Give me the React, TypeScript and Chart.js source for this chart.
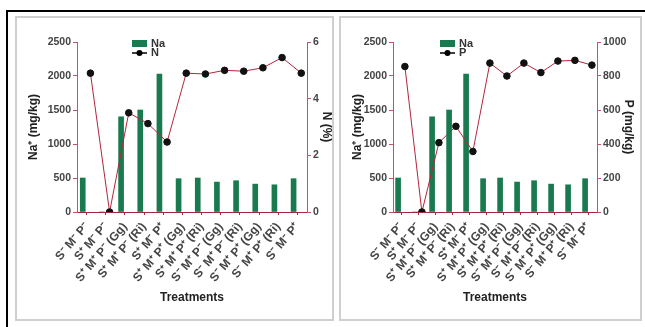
import React, { useEffect, useRef } from "react";
import { Chart, registerables } from "chart.js";

Chart.register(...registerables);

const treatments = [
  "S⁻ M⁻ P⁻",
  "S⁺ M⁻ P⁻",
  "S⁺ M⁺ P⁻ (Gg)",
  "S⁺ M⁺ P⁻ (Ri)",
  "S⁺ M⁻ P⁺",
  "S⁺ M⁺ P⁺ (Gg)",
  "S⁺ M⁺ P⁺ (Ri)",
  "S⁻ M⁺ P⁻ (Gg)",
  "S⁻ M⁺ P⁻ (Ri)",
  "S⁻ M⁺ P⁺ (Gg)",
  "S⁻ M⁺ P⁺ (Ri)",
  "S⁻ M⁻ P⁺",
];

const naValues = [500, 0, 1400, 1500, 2030, 490, 500, 440, 460, 410, 400, 490];
const nValues = [4.9, 0, 3.5, 3.12, 2.47, 4.9, 4.87, 5.0, 4.97, 5.09, 5.45, 4.9];
const pValues = [856, 0, 408, 504, 356, 876, 800, 876, 820, 888, 892, 864];

const naTicks = [0, 500, 1000, 1500, 2000, 2500];
const nTicks = [0, 2, 4, 6];
const pTicks = [0, 200, 400, 600, 800, 1000];

const FONT = "'Liberation Sans', Arial, sans-serif";
const AXIS = "#c9505f";
const XAXIS = "#9e2b3a";
const LINE = "#b3263d";
const BAR = "#1a7a4f";
const TICKC = "#444";

type PanelProps = {
  left: number;
  width: number;
  rightValues: number[];
  rightTicks: number[];
  rightLabel: string;
  legendLabel: string;
  yWidth: number;
  y2Width: number;
  legendX: number;
  y2TitlePad: number;
};

function Panel(p: PanelProps) {
  const ref = useRef<HTMLCanvasElement>(null);
  useEffect(() => {
    if (!ref.current) return;
    const shiftPlugin = {
      id: "pairShift",
      afterDatasetsUpdate(chart: any) {
        const xs = chart.scales.x;
        const dx = (xs.getPixelForValue(1) - xs.getPixelForValue(0)) * 0.2;
        chart.getDatasetMeta(0).data.forEach((el: any) => { el.x -= dx; });
        chart.getDatasetMeta(1).data.forEach((el: any) => { el.x += dx; });
      },
    };
    const legendPlugin = {
      id: "customLegend",
      afterDraw(chart: any) {
        const ctx = chart.ctx;
        const a = chart.chartArea;
        const x = a.left + p.legendX;
        const y = a.top - 2;
        ctx.save();
        ctx.fillStyle = BAR;
        ctx.fillRect(x, y, 15, 7);
        ctx.strokeStyle = "#000";
        ctx.lineWidth = 1.5;
        ctx.beginPath();
        ctx.moveTo(x, y + 13);
        ctx.lineTo(x + 15, y + 13);
        ctx.stroke();
        ctx.fillStyle = "#000";
        ctx.beginPath();
        ctx.arc(x + 7.5, y + 13, 3, 0, Math.PI * 2);
        ctx.fill();
        ctx.fillStyle = "#333";
        ctx.font = `bold 11px ${FONT}`;
        ctx.textBaseline = "middle";
        ctx.fillText("Na", x + 19, y + 3.5);
        ctx.fillText(p.legendLabel, x + 19, y + 13);
        ctx.restore();
      },
    };
    const tickFont = { family: FONT, size: 10.5, weight: "bold" as const };
    const xTickFont = { family: FONT, size: 12, weight: "bold" as const };
    const titleFont = { family: FONT, size: 12, weight: "bold" as const };
    const yMax = naTicks[naTicks.length - 1];
    const y2Max = p.rightTicks[p.rightTicks.length - 1];
    const chart = new Chart(ref.current, {
      type: "bar",
      data: {
        labels: treatments,
        datasets: [
          {
            type: "bar",
            label: "Na",
            data: naValues,
            backgroundColor: BAR,
            barThickness: 5,
            yAxisID: "y",
            order: 2,
          } as any,
          {
            type: "line",
            label: p.legendLabel,
            data: p.rightValues,
            borderColor: LINE,
            borderWidth: 1,
            pointBackgroundColor: "#111",
            pointBorderColor: "#111",
            pointRadius: 3.3,
            yAxisID: "y2",
            order: 1,
          } as any,
        ],
      },
      options: {
        animation: false,
        responsive: false,
        maintainAspectRatio: false,
        layout: { padding: { top: 24, left: 0, right: 0, bottom: 0 } },
        plugins: { legend: { display: false }, tooltip: { enabled: false } },
        scales: {
          x: {
            type: "category",
            offset: true,
            grid: { drawOnChartArea: false, drawTicks: true, tickLength: 3, color: XAXIS, offset: false },
            border: { color: XAXIS, width: 1 },
            ticks: { autoSkip: false, minRotation: 50, maxRotation: 50, font: xTickFont, color: TICKC, padding: 5 },
            title: { display: true, text: "Treatments", font: titleFont, color: "#222", padding: { top: 0, bottom: 14 } },
            afterFit: (s: any) => { s.height = 107; },
          },
          y: {
            position: "left",
            min: 0,
            max: yMax,
            afterBuildTicks: (s: any) => { s.ticks = naTicks.map((v) => ({ value: v })); },
            grid: { drawOnChartArea: false, drawTicks: true, tickLength: 4, color: AXIS },
            border: { color: AXIS, width: 1 },
            ticks: { font: tickFont, color: TICKC, padding: 2, callback: (v: any) => String(v) },
            title: { display: true, text: "Na⁺ (mg/kg)", font: titleFont, color: "#222", padding: { top: 9, bottom: 0 } },
            afterFit: (s: any) => { s.width = p.yWidth; },
          },
          y2: {
            position: "right",
            min: 0,
            max: y2Max,
            afterBuildTicks: (s: any) => { s.ticks = p.rightTicks.map((v) => ({ value: v })); },
            grid: { drawOnChartArea: false, drawTicks: true, tickLength: 4, color: AXIS },
            border: { color: AXIS, width: 1 },
            ticks: { font: tickFont, color: TICKC, padding: 2, callback: (v: any) => String(v) },
            title: {
              display: true,
              text: p.rightLabel,
              font: { ...titleFont, lineHeight: 1 },
              color: "#222",
              padding: { top: p.y2TitlePad, bottom: 0 },
            },
            afterFit: (s: any) => { s.width = p.y2Width; },
          },
        },
      } as any,
      plugins: [shiftPlugin, legendPlugin],
    });
    return () => chart.destroy();
  }, []);
  return (
    <div
      style={{
        position: "absolute",
        left: p.left,
        top: 16,
        width: p.width,
        height: 305,
        boxSizing: "border-box",
        border: "2px solid #cfcfcf",
        background: "#fff",
      }}
    >
      <canvas ref={ref} width={p.width - 4} height={301} style={{ display: "block" }} />
    </div>
  );
}

export default function App() {
  useEffect(() => {
    document.body.style.margin = "0";
  }, []);
  return (
    <div style={{ position: "relative", width: 645, height: 327, background: "#fff", overflow: "hidden" }}>
      <div style={{ position: "absolute", left: 6, top: 10, width: 639, height: 2, background: "#000" }} />
      <div style={{ position: "absolute", left: 6, top: 10, width: 2, height: 317, background: "#000" }} />
      <Panel
        left={15}
        width={319}
        rightValues={nValues}
        rightTicks={nTicks}
        rightLabel="N (%)"
        legendLabel="N"
        yWidth={60}
        y2Width={25}
        legendX={55}
        y2TitlePad={0}
      />
      <Panel
        left={339}
        width={303}
        rightValues={pValues}
        rightTicks={pTicks}
        rightLabel="P (mg/kg)"
        legendLabel="P"
        yWidth={52}
        y2Width={43}
        legendX={47}
        y2TitlePad={6}
      />
    </div>
  );
}
